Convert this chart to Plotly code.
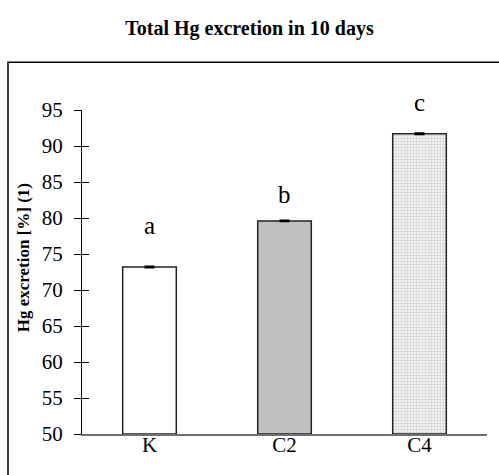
import plotly.graph_objects as go

categories = ["K", "C2", "C4"]
values = [73.2, 79.6, 91.7]
errors = [0.1, 0.1, 0.1]
letters = ["a", "b", "c"]
letter_y = [79.0, 83.3, 96.1]
tick_vals = [50, 55, 60, 65, 70, 75, 80, 85, 90, 95]
y_range = [50, 95]

FONT = "Liberation Serif, Times New Roman, serif"

fig = go.Figure()
fig.add_trace(go.Bar(
    x=categories, y=[v - y_range[0] for v in values], base=y_range[0],
    marker=dict(
        color=["#ffffff", "#c0c0c0", "#d4d4d4"],
        line=dict(color="#222222", width=1.5),
        pattern=dict(shape=["", "", "."], fgcolor="#bcbcbc", bgcolor="#d8d8d8",
                     size=3, solidity=0.6, fillmode="replace"),
    ),
    error_y=dict(type="data", array=errors, visible=True, color="#000000",
                 thickness=1.5, width=5),
    showlegend=False, hoverinfo="skip",
))
# overlay axis used to draw the inside half of the crossing tick marks
fig.add_trace(go.Scatter(x=categories, y=[None, None, None], yaxis="y2",
                         showlegend=False, hoverinfo="skip", mode="markers"))

for c, t, ly in zip(categories, letters, letter_y):
    fig.add_annotation(x=c, xref="x", yref="paper",
                       y=(ly - y_range[0]) / (y_range[1] - y_range[0]),
                       text=t, showarrow=False, yanchor="middle",
                       font=dict(family=FONT, size=25, color="#000000"))

# y-axis title placed as in the reference (slightly above the plot centre)
fig.add_annotation(text="Hg excretion [%] (1)", textangle=-90, showarrow=False,
                   xref="paper", yref="paper", x=(23 - 82) / 405,
                   y=(433.7 - 258) / 324, xanchor="center", yanchor="middle",
                   font=dict(family=FONT, size=17, color="#000000", weight="bold"))

fig.update_layout(
    width=499, height=475,
    margin=dict(l=82, r=12, t=110, b=41),
    paper_bgcolor="#ffffff", plot_bgcolor="#ffffff",
    bargap=0.603,
    title=dict(text="Total Hg excretion in 10 days", x=0.5, xref="container",
               y=1 - 28 / 475, yref="container", yanchor="middle", xanchor="center",
               font=dict(family=FONT, size=20, color="#000000", weight="bold")),
    xaxis=dict(showgrid=False, zeroline=False, showline=True, linecolor="#707070",
               linewidth=1.5, ticks="", ticklabelstandoff=-9,
               tickfont=dict(family=FONT, size=21, color="#000000")),
    yaxis=dict(range=y_range, tickvals=tick_vals, showgrid=False, zeroline=False,
               showline=True, linecolor="#000000", linewidth=1,
               ticks="outside", ticklen=7, tickcolor="#000000", tickwidth=1,
               ticklabelstandoff=7,
               tickfont=dict(family=FONT, size=21, color="#000000")),
    yaxis2=dict(range=y_range, tickvals=tick_vals, overlaying="y", side="left",
                anchor="x", showgrid=False, zeroline=False, showline=False,
                ticks="inside", ticklen=7, tickcolor="#000000", tickwidth=1,
                showticklabels=False),
)

# outer frame (cut off at right and bottom in the reference)
fig.add_shape(type="rect", xref="paper", yref="paper",
              x0=(8 - 82) / 405, x1=(510 - 82) / 405,
              y0=(433.7 - 490) / 324, y1=(433.7 - 62) / 324,
              line=dict(color="#000000", width=1.5), fillcolor="rgba(0,0,0,0)",
              layer="below")

fig.write_html("out.html")
